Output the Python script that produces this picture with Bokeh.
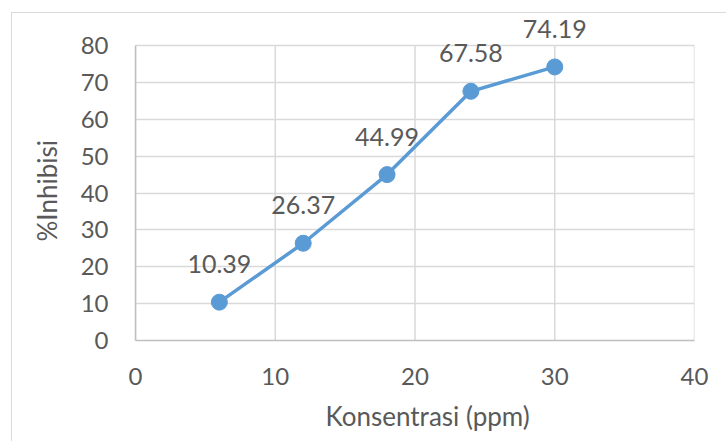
from bokeh.plotting import figure
from bokeh.models import ColumnDataSource, Range1d, FixedTicker, LabelSet, Title
from bokeh.core.properties import value
from bokeh.embed import file_html
from bokeh.resources import INLINE

# data
konsentrasi = [6, 12, 18, 24, 30]
inhibisi = [10.39, 26.37, 44.99, 67.58, 74.19]
labels = ["10.39", "26.37", "44.99", "67.58", "74.19"]
x_ticks = [0, 10, 20, 30, 40]
y_ticks = [0, 10, 20, 30, 40, 50, 60, 70, 80]
x_title = "Konsentrasi (ppm)"
y_title = "%Inhibisi"

FONT = "Lato"
TXT = "#595959"
GRID = "#D9D9D9"
BLUE = "#5B9BD5"

x_lo, x_hi = x_ticks[0], x_ticks[-1]
y_lo, y_hi = y_ticks[0], y_ticks[-1]
# headroom above the top gridline so the highest data label is not clipped
y_top = y_hi + 8.14

src = ColumnDataSource(dict(x=konsentrasi, y=inhibisi, lab=labels))
vg = ColumnDataSource(dict(x=x_ticks, y0=[y_lo] * len(x_ticks), y1=[y_hi] * len(x_ticks)))

p = figure(width=715, height=429, output_backend="svg", toolbar_location=None,
           x_range=Range1d(x_lo, x_hi), y_range=Range1d(y_lo, y_top),
           min_border_left=123, min_border_right=33, min_border_top=2,
           min_border_bottom=102)
p.margin = (12, 0, 0, 11)
p.styles = {"border-left": "1px solid #D9D9D9", "border-top": "1px solid #D9D9D9"}
p.outline_line_color = None
p.background_fill_color = "white"
p.border_fill_color = "white"

p.xgrid.visible = False
p.ygrid.grid_line_color = GRID
p.ygrid.grid_line_width = 1.5
p.ygrid.ticker = FixedTicker(ticks=y_ticks)
p.segment(x0="x", y0="y0", x1="x", y1="y1", source=vg, line_color=GRID,
          line_width=1.5, level="underlay")

p.xaxis.ticker = FixedTicker(ticks=x_ticks)
p.yaxis.ticker = FixedTicker(ticks=y_ticks)
p.yaxis.bounds = (y_lo, y_hi)
for ax in (p.xaxis, p.yaxis):
    ax.axis_line_color = "#BFBFBF"
    ax.axis_line_width = 1.5
    ax.major_tick_line_color = None
    ax.minor_tick_line_color = None
    ax.major_tick_out = 0
    ax.major_tick_in = 0
    ax.minor_tick_out = 0
    ax.major_label_text_font = FONT
    ax.major_label_text_font_size = "24px"
    ax.major_label_text_color = TXT
p.xaxis.major_label_standoff = 27
p.yaxis.major_label_standoff = 27

# axis titles (placed like the original, slightly off-centre)
ytitle = Title(text=y_title, align="left", offset=99, standoff=30,
               text_font=FONT, text_font_size="26px", text_color=TXT,
               text_font_style="normal")
p.add_layout(ytitle, "left")
xtitle = Title(text=x_title, align="left", offset=190, standoff=21,
               vertical_align="bottom",
               text_font=FONT, text_font_size="26px", text_color=TXT,
               text_font_style="normal")
p.add_layout(xtitle, "below")

p.line("x", "y", source=src, line_color=BLUE, line_width=3.5)
p.scatter("x", "y", source=src, size=16, fill_color=BLUE, line_color=BLUE)
lbl = LabelSet(x="x", y="y", text="lab", source=src, text_align="center",
               text_baseline="alphabetic", y_offset=29,
               text_font=value(FONT), text_font_size="25px", text_color=TXT)
p.add_layout(lbl)

open("out.html", "w").write(file_html(p, INLINE))
